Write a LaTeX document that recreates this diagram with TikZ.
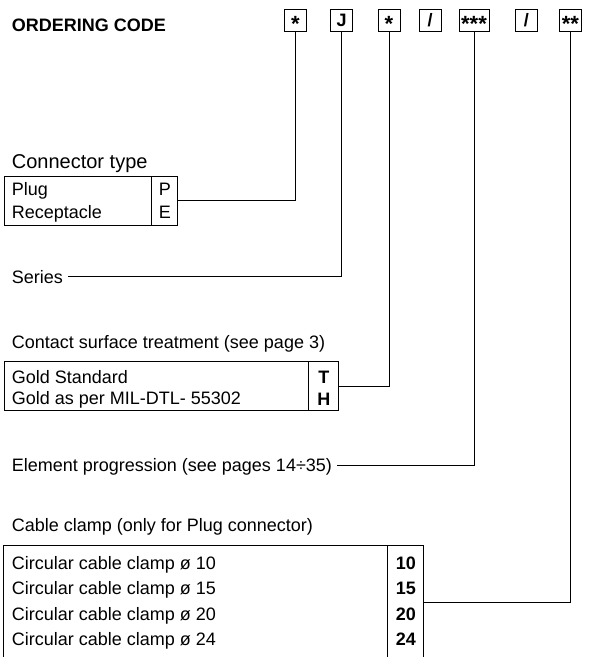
\documentclass[tikz,border=0pt]{standalone}
\usepackage{fontspec}
\setmainfont{Liberation Sans}
\newcommand\codestar[1]{\raisebox{-5.3pt}{\fontsize{22}{22}\selectfont #1}}
\tikzset{
  lbl/.style={inner sep=0pt, anchor=base west, font=\fontsize{18}{21}\selectfont, text height=12.9pt, text depth=0pt},
  keyletter/.style={inner sep=0pt, anchor=base, font=\fontsize{18}{21}\selectfont},
  keybold/.style={keyletter, font=\bfseries\fontsize{18}{21}\selectfont},
  codebox/.style={draw, line width=1pt, minimum width=22pt, minimum height=22pt, inner sep=0pt,
    font=\bfseries\fontsize{18}{18}\selectfont, text height=12.4pt, text depth=0pt},
  tabbox/.style={line width=1pt, inner sep=0pt},
  wire/.style={line width=1pt}
}
\begin{document}
\begin{tikzpicture}[x=1pt,y=-1pt]
\useasboundingbox (0,0) rectangle (592,657);
% code fields:
\node[lbl, font=\bfseries\fontsize{18}{21}\selectfont] (title) at (11.7,31.7) {ORDERING CODE};
\node[codebox] (c1) at (295.5,20.3) {\codestar{*}};
\node[codebox] (c2) at (341.7,20.3) {J};
\node[codebox] (c3) at (389,20.3) {\codestar{*}};
\node[codebox] (c4) at (430,20.3) {/};
\node[codebox, minimum width=30pt] (c5) at (474,20.3) {\codestar{***}};
\node[codebox] (c6) at (526.3,20.3) {/};
\node[codebox] (c7) at (570.5,20.3) {\codestar{**}};
% connector type:
\node[lbl, font=\fontsize{20}{23}\selectfont] (typehead) at (11.7,168.3) {Connector type};
\node[tabbox, draw, minimum width=173.7pt, minimum height=48.3pt] (typetab) at (90.85,200.85) {};
\draw[wire] (typetab.north west) ++(148.3,0) -- ++(0,48.3);
\node[lbl] (plug) at (11.7,195) {Plug};
\node[lbl] (recept) at (11.7,218.3) {Receptacle};
\node[keyletter] (keyp) at (165,195) {P};
\node[keyletter] (keye) at (165,218.3) {E};
% series:
\node[lbl] (series) at (11.7,283.3) {Series};
% contact surface treatment:
\node[lbl] (treathead) at (11.7,348.3) {Contact surface treatment (see page 3)};
\node[tabbox, draw, minimum width=334.3pt, minimum height=49pt] (treattab) at (171.15,386.2) {};
\draw[wire] (treattab.north west) ++(305.3,0) -- ++(0,49);
\node[lbl] (goldstd) at (11.7,383.3) {Gold Standard};
\node[lbl] (goldmil) at (11.7,404.5) {Gold as per MIL-DTL- 55302};
\node[keybold] (keyt) at (323.8,383.3) {T};
\node[keybold] (keyh) at (323.8,405) {H};
% element progression:
\node[lbl] (element) at (11.7,471.7) {Element progression (see pages 14÷35)};
% cable clamp:
\node[lbl] (clamphead) at (11.7,531.7) {Cable clamp (only for Plug connector)};
\node[tabbox, minimum width=419.3pt, minimum height=112pt] (clamptab) at (213.65,602) {};
\draw[wire] (clamptab.south west) -- (clamptab.north west) -- (clamptab.north east) -- (clamptab.south east);
\draw[wire] (clamptab.north west) ++(384.3,0) -- ++(0,112);
\foreach \d/\y [count=\i] in {10/569.3, 15/594.5, 20/620, 24/645.7} {
  \node[lbl] (clamp\i) at (11.7,\y) {Circular cable clamp ø \d};
  \node[keybold] (key\i) at (405.8,\y) {\d};
}
% connectors:
\draw[wire] (typetab.east) -| (c1.south);
\draw[wire] ([xshift=5pt]series.east) -| (c2.south);
\draw[wire] (treattab.east) -| (c3.south);
\draw[wire] ([xshift=5pt]element.east) -| (c5.south);
\draw[wire] (clamptab.east) -| (c7.south);
\end{tikzpicture}
\end{document}
